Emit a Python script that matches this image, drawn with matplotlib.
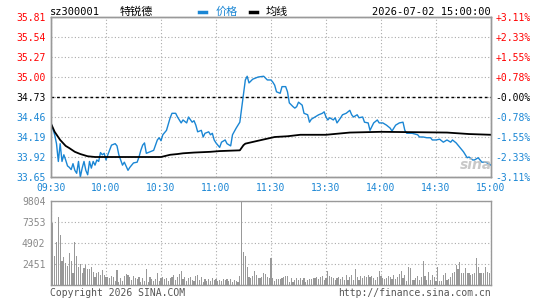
import matplotlib
matplotlib.use('Agg')
from matplotlib import pyplot as plt
from matplotlib.lines import Line2D

# intraday data, minute index 0..240 (09:30 -> 15:00, lunch break removed)
price_min = [0, 1, 2, 3, 4, 5, 6, 7, 8, 9, 10, 11, 12, 13, 14, 15, 16, 17, 18, 19,
             20, 21, 22, 23, 24, 25, 26, 27, 28, 29, 30, 31, 33, 35, 36, 37, 39, 40, 42, 43,
             45, 47, 48, 49, 50, 51, 52, 54, 56, 58, 59, 60, 61, 63, 65, 66, 68, 69, 71, 72,
             74, 75, 77, 78, 79, 80, 82, 83, 84, 86, 87, 88, 89, 90, 92, 93, 95, 96, 98, 99,
             101, 103, 104, 105, 106, 107, 108, 110, 113, 116, 118, 120, 121, 122, 123, 125, 126, 128, 129, 130,
             132, 133, 134, 135, 137, 138, 140, 141, 142, 144, 146, 148, 149, 150, 151, 152, 154, 155, 156, 158,
             159, 161, 163, 164, 165, 167, 168, 170, 171, 173, 174, 176, 178, 179, 181, 183, 185, 186, 188, 190,
             192, 193, 194, 196, 197, 200, 201, 203, 205, 207, 208, 210, 212, 214, 216, 218, 219, 221, 223, 225,
             226, 227, 228, 230, 231, 233, 235, 237, 238, 240]
price_val = [34.37, 34.30, 34.22, 34.10, 33.86, 34.10, 33.86, 33.95, 33.88, 33.80, 33.78, 33.75, 33.83, 33.74, 33.70, 33.86, 33.65, 33.77, 33.86, 33.74,
             33.68, 33.86, 33.77, 33.86, 33.81, 33.88, 33.86, 33.98, 33.95, 33.97, 33.88, 33.95, 34.08, 34.10, 34.07, 33.95, 33.81, 33.85, 33.74, 33.78,
             33.84, 33.85, 33.92, 34.01, 34.08, 34.11, 33.97, 33.99, 34.01, 34.15, 34.18, 34.14, 34.22, 34.28, 34.45, 34.51, 34.51, 34.46, 34.38, 34.42,
             34.38, 34.46, 34.39, 34.41, 34.35, 34.26, 34.28, 34.19, 34.24, 34.26, 34.22, 34.24, 34.15, 34.11, 34.05, 34.12, 34.15, 34.10, 34.07, 34.22,
             34.31, 34.39, 34.58, 34.78, 34.96, 35.01, 34.92, 34.97, 35.00, 35.01, 34.96, 34.96, 34.93, 34.89, 34.80, 34.78, 34.87, 34.87, 34.80, 34.65,
             34.60, 34.58, 34.60, 34.66, 34.62, 34.51, 34.49, 34.39, 34.43, 34.46, 34.49, 34.51, 34.53, 34.46, 34.42, 34.45, 34.42, 34.45, 34.38, 34.45,
             34.49, 34.51, 34.55, 34.49, 34.46, 34.49, 34.45, 34.46, 34.39, 34.38, 34.28, 34.38, 34.42, 34.38, 34.38, 34.35, 34.31, 34.27, 34.35, 34.38,
             34.39, 34.28, 34.24, 34.24, 34.24, 34.22, 34.19, 34.19, 34.18, 34.18, 34.15, 34.15, 34.16, 34.12, 34.15, 34.12, 34.15, 34.11, 34.05, 33.99,
             33.95, 33.91, 33.92, 33.88, 33.88, 33.91, 33.85, 33.85, 33.84, 33.81]

avg_min = [0, 2, 5, 8, 10, 13, 16, 20, 24, 60, 65, 69, 72, 78, 87, 92, 103, 105, 106, 113,
           122, 129, 136, 150, 163, 180, 216, 228, 240]
avg_val = [34.37, 34.26, 34.15, 34.07, 34.04, 33.99, 33.96, 33.93, 33.92, 33.92, 33.95, 33.96, 33.97, 33.98, 33.99, 34.00, 34.01, 34.08, 34.10, 34.14,
           34.19, 34.20, 34.22, 34.22, 34.25, 34.26, 34.25, 34.23, 34.22]

volume = [2020, 7200, 3380, 5050, 7970, 5830, 2840, 3300, 2600, 2220,
          3770, 2800, 1440, 5050, 3380, 2060, 2450, 1440, 1950, 2300,
          1900, 1900, 2060, 1520, 970, 1360, 1560, 1130, 1750, 1130,
          900, 900, 780, 1050, 900, 500, 1750, 390, 780, 500,
          1050, 1280, 1170, 900, 580, 1050, 780, 660, 900, 390,
          780, 510, 1870, 390, 900, 660, 510, 660, 1440, 510,
          780,
          900, 660, 780, 510, 780, 900, 1170, 580, 900, 1280,
          1630, 660, 900, 510, 780, 900, 580, 510, 1050, 1170,
          580, 900, 390, 660, 510, 660, 510, 780, 580, 660,
          510, 580, 510, 660, 580, 660, 510, 660, 390, 580,
          510, 390, 1050, 9720,
          3890, 3380, 2140, 900, 780, 1050, 1670, 1170, 780, 780,
          900, 1440, 1280, 900, 780, 3110,
          780, 510, 660, 660, 660, 780, 900, 1050, 1050, 390,
          780, 390, 580, 780, 580, 780, 580, 780, 390, 580,
          660, 660, 780, 780, 900, 660, 900, 1050, 580, 780,
          1630, 1050, 900, 780, 580, 780, 900, 660, 900, 580,
          1170, 580, 900, 1170, 580, 1870, 970, 580, 1050, 780,
          1050, 900, 1170, 900, 1050, 780, 580, 900, 1630, 1050,
          780, 660, 780, 1050, 900, 660, 1170, 660, 900, 1280,
          1670, 780, 1170, 510, 2060, 1940, 580, 580, 780, 1050,
          580, 900, 2800, 1050, 580, 1560, 580, 1170, 900, 510,
          2060, 510, 510, 1170, 1360, 580, 660, 900, 1360, 1560,
          2330, 1870, 2720, 1360, 1360, 1940, 1440, 1360, 1170, 1280,
          1360, 3110, 2140, 1360, 1360, 1440, 2140, 1560, 1360]

prev_close = 34.73
price_ticks = [33.65, 33.92, 34.19, 34.46, 34.73, 35.00, 35.27, 35.54, 35.81]
pct_labels = ['-3.11%', '-2.33%', '-1.55%', '-0.78%', '-0.00%', '+0.78%', '+1.55%', '+2.33%', '+3.11%']
vol_ticks = [2451, 4902, 7353, 9804]
time_ticks = [0, 30, 60, 90, 120, 150, 180, 210, 240]
time_labels = ['09:30', '10:00', '10:30', '11:00', '11:30', '13:30', '14:00', '14:30', '15:00']

BLUE = '#1a86d4'
RED = '#ff0000'
GRAY = '#999999'
MONO = ['DejaVu Sans Mono']
CJK = ['Noto Sans CJK SC', 'DejaVu Sans']
W, H = 545.0, 300.0


def px(x, y):
    return x / W, 1 - y / H


def tick_color(v):
    if v > prev_close + 1e-6:
        return RED
    if v < prev_close - 1e-6:
        return BLUE
    return 'black'


fig = plt.figure(figsize=(5.45, 3.0), dpi=100)
ax = fig.add_axes([51 / W, 1 - 177 / H, 440 / W, 160 / H])
axv = fig.add_axes([51 / W, 1 - 285 / H, 440 / W, 84 / H])

# price panel
ax.plot(price_min, price_val, color=BLUE, lw=1.0, zorder=3)
ax.plot(avg_min, avg_val, color='black', lw=1.3, zorder=3)
ax.set_xlim(0, 240)
ax.set_ylim(price_ticks[0], price_ticks[-1])
ax.set_yticks(price_ticks)
ax.set_yticklabels(['%.2f' % v for v in price_ticks], family=MONO, fontsize=7)
for lab, v in zip(ax.get_yticklabels(), price_ticks):
    lab.set_color(tick_color(v))
ax.set_xticks(time_ticks)
ax.set_xticklabels(time_labels, family=MONO, fontsize=7, color=BLUE)
ax.tick_params(length=0, pad=4)
ax.grid(color='#aaaaaa', linestyle=(0, (1, 2)), lw=0.8)
ax.axhline(prev_close, color='black', ls=(0, (2, 2)), lw=1.0, zorder=2)

ax2 = ax.twinx()
ax2.set_ylim(price_ticks[0], price_ticks[-1])
ax2.set_yticks(price_ticks)
ax2.set_yticklabels(pct_labels, family=MONO, fontsize=7)
for lab, v in zip(ax2.get_yticklabels(), price_ticks):
    lab.set_color(tick_color(v))
ax2.tick_params(length=0, pad=3)

for a in (ax, ax2, axv):
    for s in a.spines.values():
        s.set_color(GRAY)
        s.set_linewidth(1.0)

# volume panel
axv.bar(range(len(volume)), volume, width=0.55, color=GRAY, linewidth=0)
axv.set_xlim(0, 240)
axv.set_ylim(0, 9804)
axv.set_yticks(vol_ticks)
axv.set_yticklabels([str(v) for v in vol_ticks], family=MONO, fontsize=7, color='#888888')
axv.set_xticks(time_ticks)
axv.set_xticklabels([])
axv.tick_params(length=0, pad=4)
axv.grid(color='#aaaaaa', linestyle=(0, (1, 2)), lw=0.8)
axv.set_axisbelow(True)

# header
fig.text(*px(50, 12), 'sz300001', family=MONO, fontsize=7.5, va='center', ha='left')
fig.text(*px(120, 12), '特锐德', family=CJK, fontsize=8, va='center', ha='left')
fig.add_artist(Line2D([199 / W, 206 / W], [1 - 12 / H] * 2, color=BLUE, lw=2.5))
fig.text(*px(216, 12), '价格', family=CJK, fontsize=8, va='center', ha='left', color=BLUE)
fig.add_artist(Line2D([250 / W, 257 / W], [1 - 12 / H] * 2, color='black', lw=2.5))
fig.text(*px(266, 12), '均线', family=CJK, fontsize=8, va='center', ha='left')
fig.text(*px(491, 12), '2026-07-02 15:00:00', family=MONO, fontsize=7.5, va='center', ha='right')

# footer
fig.text(*px(50, 293), 'Copyright 2026 SINA.COM', family=MONO, fontsize=7, va='center', ha='left', color='#555555')
fig.text(*px(491, 293), 'http://finance.sina.com.cn', family=MONO, fontsize=7, va='center', ha='right', color='#555555')

# watermark
fig.text(*px(476, 165), 'sina', fontsize=10, style='italic', weight='bold', color='#bbbbbb',
         alpha=0.8, va='center', ha='center')

fig.savefig('out.png', dpi=100)
